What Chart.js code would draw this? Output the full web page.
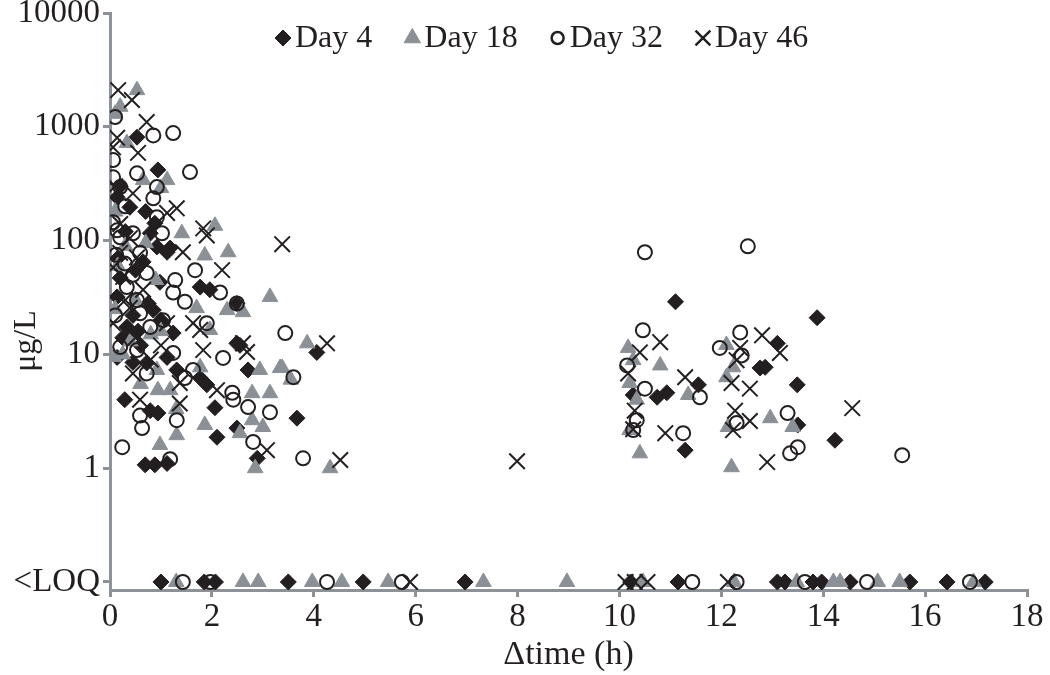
<!DOCTYPE html>
<html>
<head>
<meta charset="utf-8">
<title>Concentration vs time</title>
<script src="https://cdn.jsdelivr.net/npm/chart.js@4.4.1/dist/chart.umd.min.js"></script>
<style>
  html, body { margin: 0; padding: 0; background: #fff; }
  #wrap { width: 1050px; height: 675px; }
</style>
</head>
<body>
<div id="wrap"><canvas id="chart" width="1050" height="675"></canvas></div>
<script>
// series names
var seriesNames = ["Day 4", "Day 18", "Day 32", "Day 46"];

// axis ticks
var xTicks = [0, 2, 4, 6, 8, 10, 12, 14, 16, 18];
var yTickValues = [0.1, 1, 10, 100, 1000, 10000];
var yTickLabels = ["<LOQ", "1", "10", "100", "1000", "10000"];
var LOQ_LEVEL = 0.1;   // where "<LOQ" results sit on the log axis

// Day 4 (measured)
var day4Time = [0.53, 0.94, 0.88, 0.14, 0.39, 0.79, 0.92, 1.18, 1.12, 0.65, 0.2, 0.98, 1.77, 1.96, 2.49,
    0.14, 0.85, 0.33, 1.24, 2.49, 0.14, 0.45, 0.72, 1.12, 1.31, 1.77, 1.9, 2.06, 0.29, 0.79, 0.94,
    2.1, 2.49, 2.71, 2.55, 2.89, 0.69, 0.88, 1.12, 3.67, 4.06, 0.3, 0.5, 0.25, 0.6, 1.0, 0.45, 0.2, 0.7,
    0.35, 0.55, 0.15, 0.75,
    11.1, 13.88, 10.27, 10.74, 10.93, 11.55, 11.29, 13.1, 12.76, 12.86, 13.49, 13.5, 14.23];
var day4Conc = [810, 418, 142, 240, 196, 116, 88, 86, 79, 65, 47, 43, 39, 37, 28,
    32, 24.5, 17.4, 15.4, 12.5, 9.4, 8.5, 8.4, 9.4, 7.3, 6.2, 5.4, 3.4, 4.0, 3.2, 3.05,
    1.87, 2.25, 7.3, 12, 1.22, 1.07, 1.07, 1.1, 2.75, 10.4, 120, 55, 14, 12, 20, 22, 300, 180,
    15, 16, 70, 28,
    29, 21, 4.4, 4.2, 4.6, 5.4, 1.44, 12.5, 7.6, 7.7, 5.4, 2.4, 1.76];
var day4Loq = [1.0, 1.85, 2.07, 3.5, 4.97, 6.97, 10.22, 11.15, 13.1, 13.25, 13.8, 13.97, 14.53, 15.7, 16.43, 17.18];

// Day 18
var day18Time = [0.53, 0.2, 0.1, 0.33, 1.12, 0.65, 1.0, 2.06, 1.41, 1.86, 2.32, 1.7, 2.3, 2.61, 3.14,
    1.96, 1.0, 0.92, 0.94, 1.18, 1.77, 1.31, 1.86, 2.55, 2.79, 3.14, 2.79, 3.0, 2.94, 2.85, 0.98,
    3.34, 3.87, 3.38, 3.55, 4.32, 0.1, 0.3, 0.15, 0.5, 0.8, 0.25, 0.6, 1.3, 0.1, 0.7,
    0.08, 0.4, 0.9,
    10.17, 10.27, 10.8, 10.2, 10.34, 11.35, 10.2, 10.4, 12.1, 12.23, 12.1, 12.96, 13.4, 12.13, 12.2];
var day18Conc = [2100, 1500, 1300, 720, 340, 340, 290, 135, 116, 74, 79, 25.5, 24.5, 23.5, 32,
    16.4, 16, 7.3, 4.85, 4.85, 7.7, 1.95, 2.4, 2.03, 4.56, 4.56, 2.64, 2.3, 7.3, 1.0, 1.6,
    7.6, 12.5, 7.6, 6.0, 1.0, 180, 90, 60, 30, 15, 10, 5.5, 3.3, 25, 95,
    9.5, 13, 45,
    11.4, 8.9, 8.0, 5.6, 4.0, 4.4, 2.16, 1.35, 12.1, 7.7, 6.3, 2.75, 2.3, 2.3, 1.02];
var day18Loq = [1.3, 2.61, 2.91, 3.97, 4.55, 5.46, 7.33, 8.97, 10.46, 12.25, 13.48, 14.2, 14.33, 15.07, 15.5, 16.95];

// Day 32
var day32Time = [0.1, 0.85, 1.24, 0.06, 1.57, 0.53, 0.06, 0.92, 0.2, 0.85, 0.06, 0.92, 0.14, 0.2, 0.45,
    1.02, 0.59, 0.29, 0.45, 0.72, 1.67, 1.28, 1.24, 2.16, 2.49, 1.47, 0.33, 0.53, 0.59, 0.1, 0.79,
    1.04, 1.9, 0.2, 0.53, 0.72, 1.24, 1.47, 1.63, 2.22, 2.4, 2.42, 0.59, 0.63, 1.31, 2.71, 3.14,
    2.81, 0.24, 1.18, 3.44, 3.6, 3.79, 0.3, 0.12,
    10.5, 12.52, 10.46, 10.15, 10.5, 11.58, 10.34, 10.27, 11.25, 12.37, 11.97, 12.4, 12.3, 13.3, 13.5, 13.35, 15.55];
var day32Conc = [1219, 840, 880, 510, 400, 390, 360, 295, 295, 235, 145, 160, 123, 107, 116,
    116, 78, 63, 50, 52, 55, 45, 35, 35, 28, 29, 39, 30, 23, 22, 17.4,
    20, 18.8, 11.6, 10.9, 6.8, 10.3, 6.2, 7.3, 9.3, 4.6, 4.0, 2.9, 2.25, 2.64, 3.44, 3.1,
    1.7, 1.53, 1.2, 15.4, 6.3, 1.22, 200, 75,
    79, 89, 16.3, 8.0, 5.0, 4.2, 2.64, 2.16, 2.03, 15.6, 11.4, 9.8, 2.5, 3.05, 1.53, 1.35, 1.3];
var day32Loq = [1.43, 1.97, 4.26, 5.73, 11.43, 12.3, 13.64, 14.86, 16.88];

// Day 46
var day46Time = [0.16, 0.43, 0.72, 0.14, 0.06, 0.55, 0.45, 1.31, 1.12, 1.83, 1.9, 3.38, 1.43, 2.2, 0.39,
    0.2, 0.53, 0.06, 0.26, 0.65, 0.39, 0.06, 1.12, 1.63, 1.77, 2.61, 0.45, 1.37, 2.1, 1.37, 0.59,
    2.69, 1.83, 3.08, 4.26, 4.52, 7.99, 0.1, 0.3, 0.8, 1.0, 0.2, 0.5,
    10.8, 10.4, 10.17, 11.29, 10.3, 10.27, 10.9, 12.8, 12.37, 12.3, 13.15, 12.2, 12.56, 12.27, 12.56, 12.23, 14.57, 12.9];
var day46Conc = [2100, 1718, 1100, 800, 660, 590, 260, 192, 175, 128, 111, 93, 79, 55, 105,
    78, 71, 58, 48, 37, 25.6, 18.8, 18.8, 18.8, 16.4, 12.5, 6.8, 5.6, 4.85, 3.7, 4.0,
    10.5, 10.9, 1.44, 12.5, 1.18, 1.15, 300, 30, 9, 12, 140, 14,
    12.8, 10.4, 6.8, 6.3, 3.2, 2.2, 2.03, 14.7, 11.4, 8.9, 10.3, 5.6, 5.0, 3.2, 2.6, 2.16, 3.37, 1.13];
var day46Loq = [5.89, 10.12, 10.3, 10.55, 12.13];

function toPoints(times, conc, loq) {
    var pts = times.map(function (t, i) { return { x: t, y: conc[i] }; });
    return pts.concat(loq.map(function (t) { return { x: t, y: LOQ_LEVEL }; }));
}

var ink = '#231f20';
var grey = '#8b9097';
var axisGrey = '#8c9298';
var serif = "'Liberation Serif', 'Times New Roman', serif";

Chart.defaults.font.family = serif;
Chart.defaults.color = ink;

// legend sits inside the plot, in one row, like the original
var legendMarks = [
    { pointStyle: 'rectRot', radius: 8, fill: ink, stroke: ink, borderWidth: 1 },
    { pointStyle: 'triangle', radius: 9.5, fill: grey, stroke: grey, borderWidth: 1 },
    { pointStyle: 'circle', radius: 6, fill: 'rgba(0,0,0,0)', stroke: ink, borderWidth: 2.5 },
    { pointStyle: 'crossRot', radius: 10.5, fill: ink, stroke: ink, borderWidth: 2.5 }
];
var inPlotLegend = {
    id: 'inPlotLegend',
    afterDraw: function (chart) {
        var c = chart.ctx;
        var x = 275, y = 38;
        c.save();
        c.font = "32px " + serif;
        c.textBaseline = 'middle';
        c.textAlign = 'left';
        seriesNames.forEach(function (name, i) {
            var m = legendMarks[i];
            c.fillStyle = m.fill;
            c.strokeStyle = m.stroke;
            c.lineWidth = m.borderWidth;
            Chart.helpers.drawPoint(c, { pointStyle: m.pointStyle, radius: m.radius, rotation: 0, borderWidth: m.borderWidth }, x + 8, y);
            c.fillStyle = ink;
            c.fillText(name, x + 20, y + 1);
            x += 20 + c.measureText(name).width + 32;
        });
        // y axis title
        c.translate(27, 341);
        c.rotate(-Math.PI / 2);
        c.textAlign = 'center';
        c.font = "32px " + serif;
        c.fillText('μg/L', 0, 0);
        c.restore();
    }
};

var ctx = document.getElementById("chart").getContext('2d');
var myChart = new Chart(ctx, {
    type: 'scatter',
    data: {
        datasets: [{
            label: seriesNames[0],
            data: toPoints(day4Time, day4Conc, day4Loq),
            pointStyle: 'rectRot',
            pointRadius: 8,
            backgroundColor: ink,
            borderColor: ink,
            borderWidth: 1,
            order: 4
        }, {
            label: seriesNames[1],
            data: toPoints(day18Time, day18Conc, day18Loq),
            pointStyle: 'triangle',
            pointRadius: 9,
            backgroundColor: grey,
            borderColor: grey,
            borderWidth: 1,
            order: 3
        }, {
            label: seriesNames[2],
            data: toPoints(day32Time, day32Conc, day32Loq),
            pointStyle: 'circle',
            pointRadius: 7,
            backgroundColor: 'rgba(0,0,0,0)',
            borderColor: ink,
            borderWidth: 2,
            order: 2
        }, {
            label: seriesNames[3],
            data: toPoints(day46Time, day46Conc, day46Loq),
            pointStyle: 'crossRot',
            pointRadius: 11,
            backgroundColor: ink,
            borderColor: ink,
            borderWidth: 2,
            order: 1
        }]
    },
    options: {
        responsive: false,
        animation: false,
        layout: { padding: { top: 13, right: 23, left: 0, bottom: 0 } },
        plugins: {
            tooltip: { enabled: false },
            legend: { display: false }
        },
        scales: {
            x: {
                type: 'linear',
                min: 0,
                max: 18,
                afterFit: function (scale) {
                    scale.height = 85;
                    scale.paddingLeft = 0;
                    scale.paddingRight = 0;
                },
                afterBuildTicks: function (axis) {
                    axis.ticks = xTicks.map(function (v) { return { value: v }; });
                },
                grid: { drawOnChartArea: false, drawTicks: true, tickLength: 7, color: axisGrey, lineWidth: 3 },
                border: { color: axisGrey, width: 3 },
                ticks: { font: { size: 33 }, color: ink, padding: 1, maxRotation: 0 },
                title: { display: true, text: 'Δtime (h)', font: { size: 34 }, color: ink, padding: { top: 9, bottom: 0 } }
            },
            y: {
                type: 'logarithmic',
                min: 0.085,
                max: 10000,
                afterFit: function (scale) {
                    scale.width = 110;
                    scale.paddingTop = 0;
                    scale.paddingBottom = 0;
                },
                afterBuildTicks: function (axis) {
                    axis.ticks = yTickValues.map(function (v) { return { value: v }; });
                },
                grid: { drawOnChartArea: false, drawTicks: true, tickLength: 7, color: axisGrey, lineWidth: 3 },
                border: { color: axisGrey, width: 3 },
                ticks: {
                    font: { size: 33 },
                    color: ink,
                    padding: 3,
                    callback: function (value) {
                        var i = yTickValues.indexOf(value);
                        return i >= 0 ? yTickLabels[i] : '';
                    }
                }
            }
        }
    },
    plugins: [inPlotLegend]
});
</script>
</body>
</html>
